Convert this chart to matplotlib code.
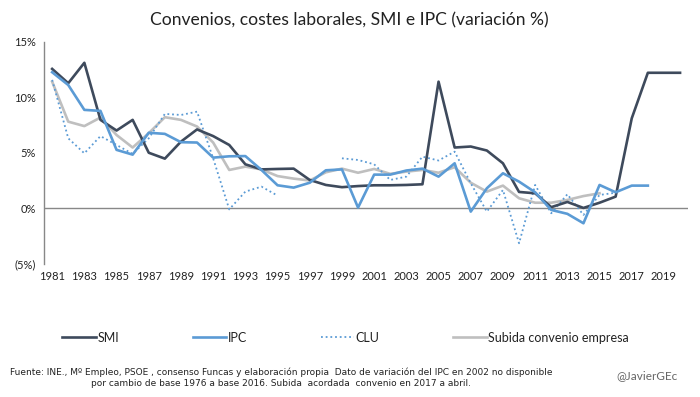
import matplotlib
matplotlib.use("Agg")
import matplotlib.pyplot as plt
import numpy as np

plt.rcParams['font.family'] = ['Lato', 'DejaVu Sans']

years = list(range(1981, 2021))

smi = [12.55, 11.26, 13.1, 7.96, 7.0, 7.96, 5.0, 4.47, 6.0, 7.1,
       6.5, 5.7, 3.96, 3.5, 3.54, 3.57, 2.55, 2.1, 1.9, 2.0,
       2.07, 2.07, 2.1, 2.16, 11.4, 5.47, 5.56, 5.2, 4.05, 1.47,
       1.35, 0.1, 0.57, 0.03, 0.5, 1.05, 8.1, 12.2, 12.2, 12.2]

ipc = [12.25, 11.1, 8.86, 8.77, 5.26, 4.83, 6.8, 6.7, 5.95, 5.92,
       4.56, 4.68, 4.7, 3.45, 2.07, 1.86, 2.3, 3.42, 3.5, 0.06,
       3.03, 3.03, 3.4, 3.57, 2.85, 4.05, -0.3, 1.8, 3.15, 2.4,
       1.44, -0.15, -0.5, -1.35, 2.1, 1.44, 2.04, 2.04, None, None]

clu = [11.56, 6.3, 4.95, 6.5, 5.7, 4.9, 6.3, 8.5, 8.4, 8.7,
       4.5, -0.1, 1.5, 1.95, 1.14, None, None, None, 4.5, 4.35,
       3.96, 2.55, 2.85, 4.65, 4.3, 5.1, 2.25, -0.3, 1.65, -3.15,
       2.1, -0.45, 1.26, -0.6, 1.2, 1.4, None, None, None, None]

convenio = [11.4, 7.8, 7.4, 8.17, 6.6, 5.47, 6.76, 8.2, 7.96, 7.36,
            5.92, 3.45, 3.75, 3.5, 2.9, 2.67, 2.5, 3.24, 3.57, 3.2,
            3.54, 3.1, 3.3, 3.45, 3.2, 3.7, 2.3, 1.5, 2.04, 0.9,
            0.5, 0.5, 0.75, 1.1, 1.35, None, None, None, None, None]

series_names = ["SMI", "IPC", "CLU", "Subida convenio empresa"]
ytick_vals = [-5, 0, 5, 10, 15]
ytick_labels = ["(5%)", "0%", "5%", "10%", "15%"]
xtick_years = list(range(1981, 2021, 2))

def arr(v):
    return np.array([np.nan if x is None else x for x in v], dtype=float)

fig = plt.figure(figsize=(7, 3.97), dpi=100)
ax = fig.add_axes([0.063, 0.3355, 0.92, 0.5595])

c_smi = "#3E4A5C"
c_ipc = "#5B9BD5"
c_gray = "#BFBFBF"

l1, = ax.plot(years, arr(smi), color=c_smi, lw=1.9, label=series_names[0], zorder=4)
l2, = ax.plot(years, arr(ipc), color=c_ipc, lw=1.9, label=series_names[1], zorder=5)
l3, = ax.plot(years, arr(clu), color=c_ipc, lw=1.3, ls=(0, (1, 1.6)), label=series_names[2], zorder=3)
l4, = ax.plot(years, arr(convenio), color=c_gray, lw=1.9, label=series_names[3], zorder=2)

ax.set_xlim(1980.5, 2020.5)
ax.set_ylim(-5, 15)
ax.axhline(0, color="#888888", lw=1.0, zorder=1)

for s in ["top", "right", "bottom"]:
    ax.spines[s].set_visible(False)
ax.spines["left"].set_color("#888888")
ax.spines["left"].set_linewidth(1.0)

ax.set_yticks(ytick_vals)
ax.set_yticklabels(ytick_labels, fontsize=8, color="#222222")
ax.set_xticks(xtick_years)
ax.set_xticklabels([str(y) for y in xtick_years], fontsize=8, color="#222222")
ax.tick_params(axis="both", length=0)
ax.tick_params(axis="y", pad=6)
ax.tick_params(axis="x", pad=5)

fig.text(0.499, 0.948, "Convenios, costes laborales, SMI e IPC (variación %)",
         ha="center", va="center", fontsize=12.6, color="#222222")

leg = fig.legend(handles=[l1, l2, l3, l4], loc="center", bbox_to_anchor=(0.494, 0.149),
                 ncol=4, frameon=False, fontsize=9, handlelength=2.65,
                 columnspacing=5.9, handletextpad=0.15)
for t in leg.get_texts():
    t.set_color("#222222")

foot_kw = dict(fontsize=6.5, color="#222222", family=["DejaVu Sans"])
fig.text(0.014, 0.063,
         "Fuente: INE., Mº Empleo, PSOE , consenso Funcas y elaboración propia  Dato de variación del IPC en 2002 no disponible",
         ha="left", va="center", **foot_kw)
fig.text(0.402, 0.035,
         "por cambio de base 1976 a base 2016. Subida  acordada  convenio en 2017 a abril.",
         ha="center", va="center", **foot_kw)
fig.text(0.924, 0.055, "@JavierGEc", ha="center", va="center", fontsize=8.5, color="#666666")

fig.savefig("out.png", dpi=100)
